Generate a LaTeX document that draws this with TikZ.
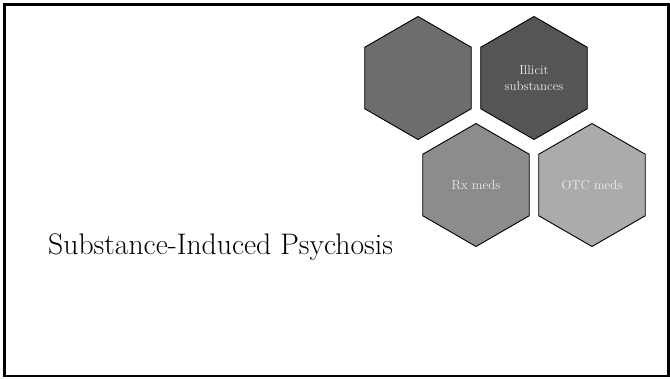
\documentclass[tikz,border=0pt]{standalone}
\usepackage{tikz}
\usetikzlibrary{positioning}
\usetikzlibrary{shapes.geometric}
\definecolor{hexmid}{HTML}{6D6D6D}
\definecolor{hexdark}{HTML}{555555}
\definecolor{hexlight}{HTML}{8C8C8C}
\definecolor{hexpale}{HTML}{ABABAB}
\tikzstyle{hexa} = [draw, line width=0.9pt, regular polygon, regular polygon sides=6, shape border rotate=30, minimum size=123pt, inner sep=0pt, outer sep=0pt, text=white!93!black, align=center, font=\fontsize{13}{15.5}\selectfont]
\tikzstyle{heading} = [anchor=base west, inner sep=0pt, font=\fontsize{29.7}{34}\selectfont]

\begin{document}
\begin{tikzpicture}[x=1pt,y=1pt,node distance=116pt]
    \useasboundingbox (0,0) rectangle (670,378);
    \draw [line width=2.8pt] (4.5,2) rectangle (668.5,373.5);

    \node [hexa, fill=hexmid] (blank) at (418,300) {};
    \node [hexa, fill=hexdark, right of=blank] (illicit) {Illicit\\substances};
    \node [hexa, fill=hexlight, below of=blank, xshift=58pt, node distance=107pt] (rx) {Rx meds};
    \node [hexa, fill=hexpale, right of=rx] (otc) {OTC meds};

    \node [heading] (title) at (48,123) {Substance-Induced Psychosis};
\end{tikzpicture}
\end{document}
